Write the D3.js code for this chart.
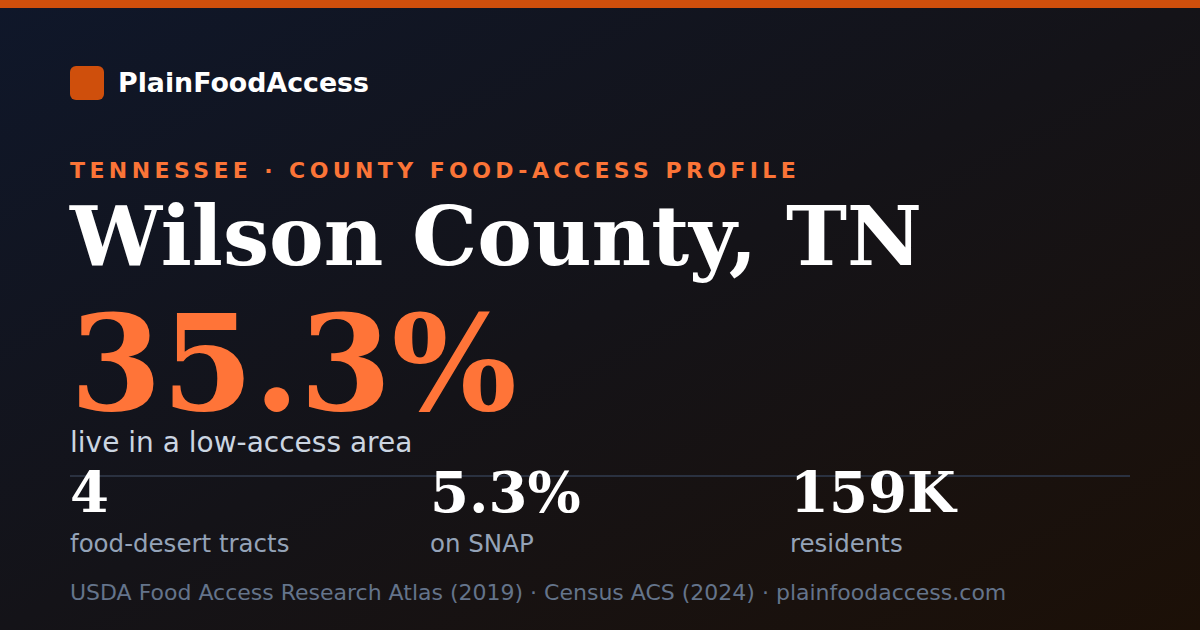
<!DOCTYPE html>
<html>
<head>
<meta charset="utf-8">
<script src="https://cdn.jsdelivr.net/npm/d3@7"></script>
<style>
  html, body { margin: 0; padding: 0; background: #111; }
  svg { display: block; }
</style>
</head>
<body>
<script>
let width = 1200
let height = 630
let sans = 'DejaVu Sans, sans-serif'
let serif = 'DejaVu Serif, serif'

// card content
let brand = 'PlainFoodAccess'
let eyebrow = 'TENNESSEE · COUNTY FOOD-ACCESS PROFILE'
let county = 'Wilson County, TN'
let headline = '35.3%'
let headlineLabel = 'live in a low-access area'
let statValues = ['4', '5.3%', '159K']
let statLabels = ['food-desert tracts', 'on SNAP', 'residents']
let source = 'USDA Food Access Research Atlas (2019) · Census ACS (2024) · plainfoodaccess.com'

let svg = d3.select('body').append('svg')
  .attr('width', width)
  .attr('height', height)

let defs = svg.append('defs')
let grad = defs.append('linearGradient')
  .attr('id', 'bg')
  .attr('x1', '0%').attr('y1', '0%')
  .attr('x2', '100%').attr('y2', '100%')
grad.append('stop').attr('offset', '0%').attr('stop-color', '#0f172a')
grad.append('stop').attr('offset', '50%').attr('stop-color', '#141318')
grad.append('stop').attr('offset', '100%').attr('stop-color', '#1c1007')

svg.append('rect')
  .attr('width', width).attr('height', height)
  .attr('fill', 'url(#bg)')

// top accent bar
svg.append('rect')
  .attr('width', width).attr('height', 8)
  .attr('fill', '#cf4f0c')

// brand
svg.append('rect')
  .attr('x', 70).attr('y', 66)
  .attr('width', 34).attr('height', 34)
  .attr('rx', 6)
  .attr('fill', '#cf4f0c')

svg.append('text')
  .attr('x', 118).attr('y', 92)
  .attr('font-family', sans).attr('font-weight', 'bold')
  .attr('font-size', 26.8).attr('fill', '#ffffff')
  .text(brand)

svg.append('text')
  .attr('x', 70).attr('y', 178)
  .attr('font-family', sans).attr('font-weight', 'bold')
  .attr('font-size', 22).attr('letter-spacing', 4.4)
  .attr('fill', '#fb7437')
  .text(eyebrow)

svg.append('text')
  .attr('x', 70).attr('y', 265)
  .attr('font-family', serif).attr('font-weight', 'bold')
  .attr('font-size', 82).attr('fill', '#ffffff')
  .text(county)

svg.append('text')
  .attr('x', 70).attr('y', 410)
  .attr('font-family', serif).attr('font-weight', 'bold')
  .attr('font-size', 132).attr('fill', '#ff7438')
  .text(headline)

svg.append('text')
  .attr('x', 70).attr('y', 452)
  .attr('font-family', sans)
  .attr('font-size', 28).attr('fill', '#cbd5e1')
  .text(headlineLabel)

// divider
svg.append('line')
  .attr('x1', 70).attr('x2', 1130)
  .attr('y1', 476).attr('y2', 476)
  .attr('stroke', '#2a3140').attr('stroke-width', 2)

// stat columns
let x = d3.scaleLinear()
  .domain([0, statValues.length])
  .range([70, 1150])

let stats = svg.append('g')
  .selectAll('g')
  .data(statValues)
  .join('g')
  .attr('transform', (d, i) => `translate(${x(i)},0)`)

stats.append('text')
  .attr('y', 512)
  .attr('font-family', serif).attr('font-weight', 'bold')
  .attr('font-size', 56).attr('fill', '#ffffff')
  .text(d => d)

stats.append('text')
  .attr('y', 552)
  .attr('font-family', sans)
  .attr('font-size', 24.5).attr('fill', '#94a3b8')
  .text((d, i) => statLabels[i])

svg.append('text')
  .attr('x', 70).attr('y', 600)
  .attr('font-family', sans)
  .attr('font-size', 22).attr('fill', '#64748b')
  .text(source)
</script>
</body>
</html>
